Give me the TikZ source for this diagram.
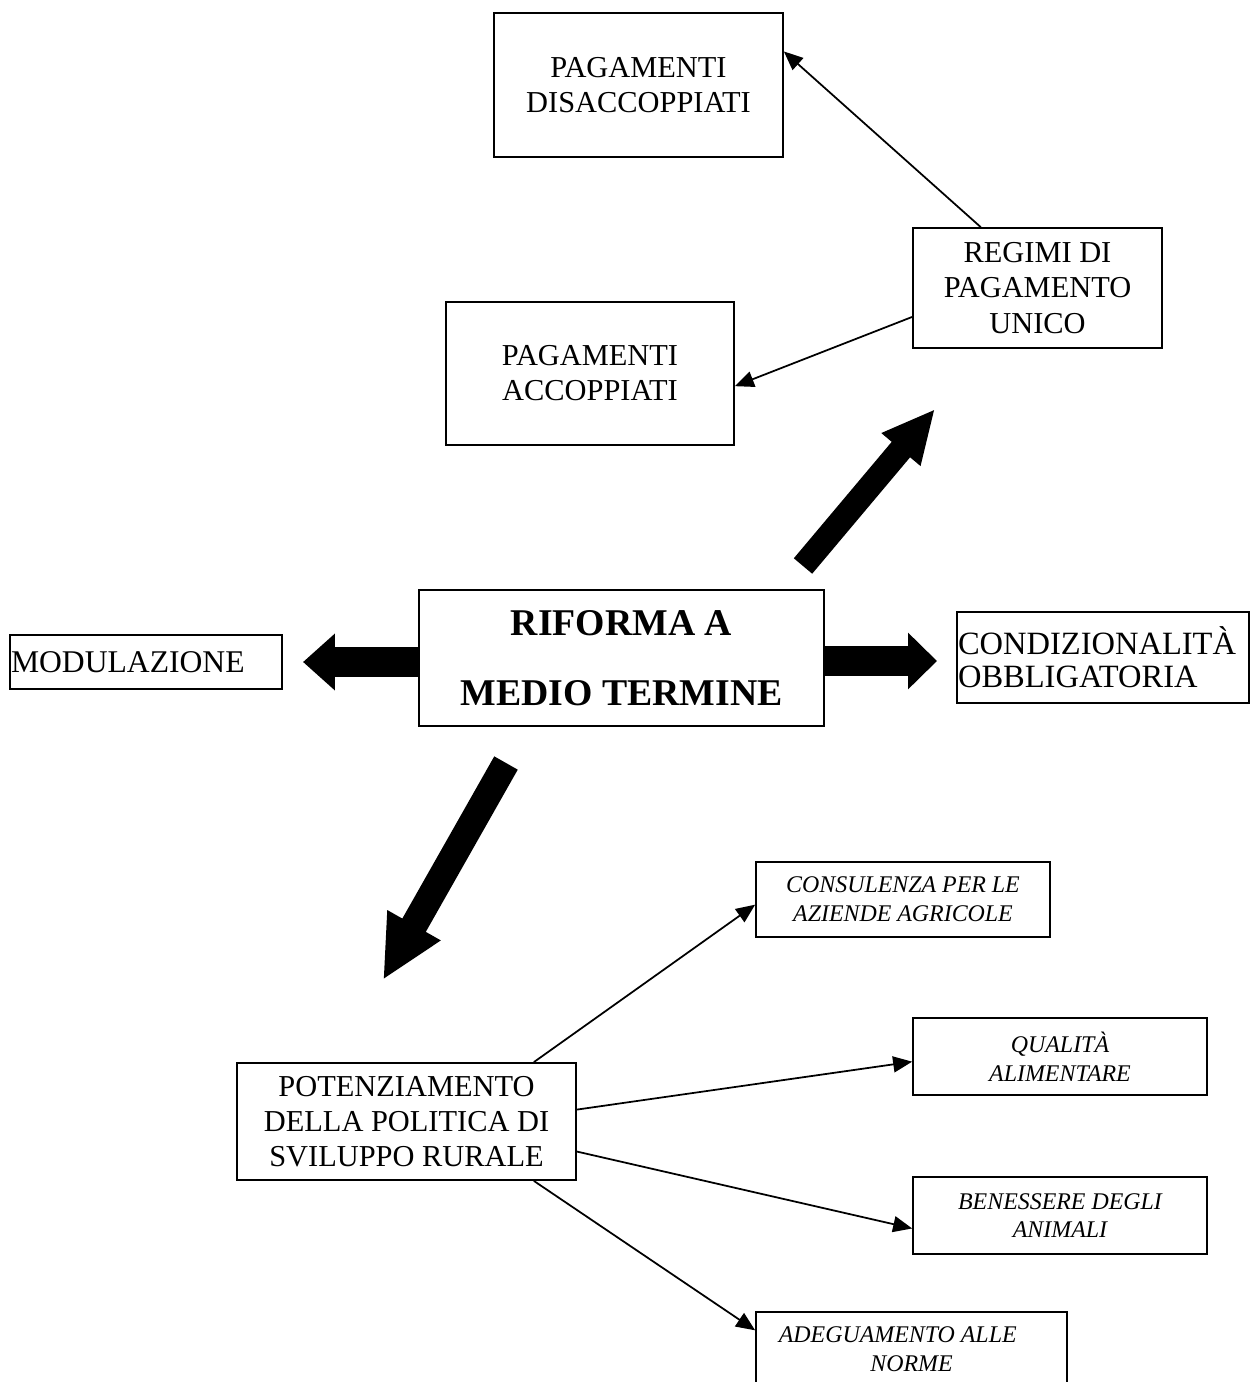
\documentclass[tikz,border=0pt]{standalone}
\usepackage{fontspec}
\setmainfont{Liberation Serif}
\usetikzlibrary{arrows.meta}

\begin{document}
\begin{tikzpicture}[x=0.02cm, y=-0.02cm,
    box/.style={draw, line width=1pt, inner sep=0pt, align=center, font=\fontsize{17.3}{20}\selectfont},
    smallbox/.style={draw, line width=1pt, inner sep=0pt, align=center, font=\fontsize{13.6}{16.4}\selectfont\itshape},
    link/.style={line width=1pt, -{Triangle[length=0.38cm, width=0.32cm]}},
    bigarrow/.style n args={3}{line width=#1, -{Triangle[length=#2, width=#3]}}]
    \useasboundingbox (0,0) rectangle (1250,1382);

    % Payment boxes
    \node[box, minimum width=5.78cm, minimum height=2.88cm] (disacc) at (638.5,85) {PAGAMENTI\\DISACCOPPIATI};
    \node[box, minimum width=4.98cm, minimum height=2.40cm] (regimi) at (1037.5,288) {REGIMI DI\\PAGAMENTO\\UNICO};
    \node[box, minimum width=5.76cm, minimum height=2.86cm] (acc) at (590,373.5) {PAGAMENTI\\ACCOPPIATI};

    % Reform
    \node[box, minimum width=8.1cm, minimum height=2.72cm, font=\fontsize{21.5}{39.7}\selectfont\bfseries] (riforma) at (621.5,658) {RIFORMA A\\MEDIO TERMINE};
    \node[box, align=left, text width=5.4cm, inner xsep=0.02cm, minimum height=1.08cm, font=\fontsize{18}{21}\selectfont] (modul) at (146,662) {MODULAZIONE};
    \node[box, align=left, text width=5.8cm, inner xsep=0.02cm, minimum height=1.82cm, font=\fontsize{18.5}{19}\selectfont] (condiz) at (1103,657.5) {CONDIZIONALITÀ\\OBBLIGATORIA};

    % Rural development
    \node[box, minimum width=6.78cm, minimum height=2.34cm] (potenz) at (406.5,1121.5) {POTENZIAMENTO\\DELLA POLITICA DI\\SVILUPPO RURALE};
    \node[smallbox, minimum width=5.88cm, minimum height=1.50cm] (consul) at (903,899.5) {CONSULENZA PER LE\\AZIENDE AGRICOLE};
    \node[smallbox, minimum width=5.88cm, minimum height=1.54cm] (qualita) at (1060,1056.5) {QUALITÀ\\ALIMENTARE};
    \node[smallbox, minimum width=5.88cm, minimum height=1.54cm] (benessere) at (1060,1215.5) {BENESSERE DEGLI\\ANIMALI};
    \node[smallbox, minimum width=6.22cm, minimum height=1.50cm] (adegua) at (911.5,1349.5) {ADEGUAMENTO ALLE\hspace*{0.55cm}\\NORME};

    % Thin arrows
    \draw[link] (regimi.133.8) -- (disacc.13.6);
    \draw[link] (regimi.193.5) -- (acc.-5.3);
    \draw[link] (potenz.25.2) -- (consul.182.9);
    \draw[link] (potenz.4.55) -- (qualita.182.5);
    \draw[link] (potenz.-10.5) -- (benessere.185.6);
    \draw[link] (potenz.-25.2) -- (adegua.173.9);

    % Block arrows
    \coordinate (lefttip) at (303,662);
    \coordinate (righttip) at (937,661);
    \coordinate (uptail) at (803,566);
    \coordinate (uptip) at (935,409);
    \coordinate (downtail) at (506,763);
    \coordinate (downtip) at (383,980);
    \draw[bigarrow={0.6cm}{0.64cm}{1.1cm}] (riforma.west |- lefttip) -- (lefttip);
    \draw[bigarrow={0.6cm}{0.58cm}{1.1cm}] (riforma.east |- righttip) -- (righttip);
    \draw[bigarrow={0.48cm}{1.06cm}{0.94cm}] (uptail) -- (uptip);
    \draw[bigarrow={0.54cm}{1.26cm}{1.13cm}] (downtail) -- (downtip);
\end{tikzpicture}
\end{document}
